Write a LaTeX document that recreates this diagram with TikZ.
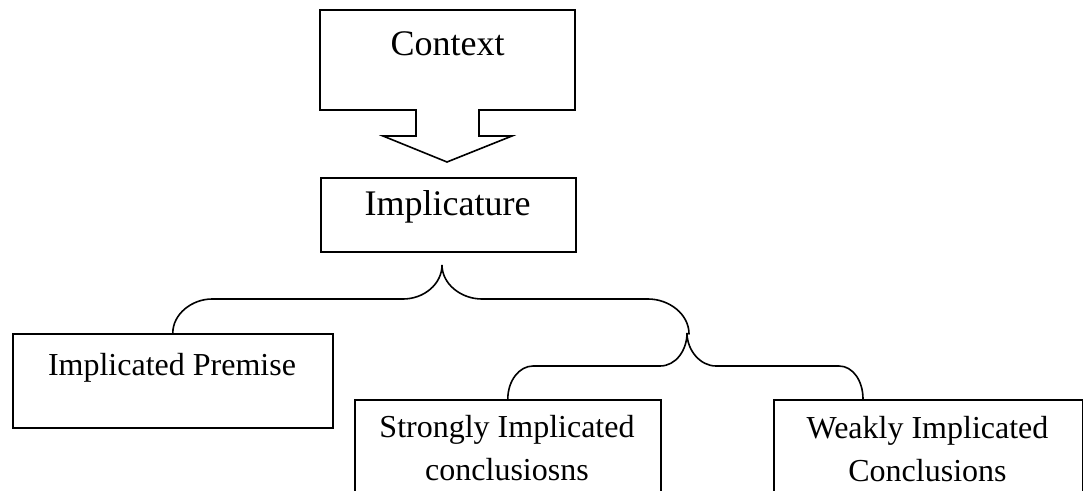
\documentclass[tikz,border=0pt]{standalone}
\usepackage{fontspec}
\setmainfont{Liberation Serif}
\usetikzlibrary{calc}
\begin{document}
\begin{tikzpicture}[x=1pt,y=-1pt,line width=1.6pt,
  box/.style={draw,line width=1.6pt,inner sep=0pt,anchor=north west},
  big/.style={font=\fontsize{36}{40}\selectfont,inner sep=0pt,anchor=base},
  small/.style={font=\fontsize{32}{43}\selectfont,inner sep=0pt,anchor=base,align=center},
  brace/.style={draw,line width=1.6pt,line cap=round}]
\useasboundingbox (0,0) rectangle (1083,490);
\clip (0,0) rectangle (1083,490);
% Context callout
\draw[line join=miter] (320,10) -- (575,10) -- (575,110) -- (479,110) -- (479,136) -- (512,136)
  -- (447,162) -- (383,136) -- (416,136) -- (416,110) -- (320,110) -- cycle;
\node[big] (ctx) at (447.5,55) {Context};
% Implicature
\node[box,minimum width=255pt,minimum height=74pt] (impl) at (320,177) {};
\node[big] (impltext) at (447.5,215) {Implicature};
% Implicated Premise
\node[box,minimum width=320pt,minimum height=94pt] (prem) at (12,333) {};
\node[small] (premtext) at (172,375) {Implicated Premise};
% Strongly
\node[box,minimum width=306pt,minimum height=120pt] (strong) at (354,399) {};
\node[small] (strongtext) at (507,480) {Strongly Implicated\\conclusiosns};
% Weakly
\node[box,minimum width=309pt,minimum height=120pt] (weak) at (773,399) {};
\node[small] (weaktext) at (927.5,481) {Weakly Implicated\\Conclusions};
% brace tips
\coordinate (t1) at (442,265);
\coordinate (t2) at (687,333);
\coordinate (wend) at ($(weak.north west)+(90,0)$);
% brace 1
\draw[brace] (prem.north) .. controls ($(prem.north)+(0,-19)$) and (192,299) .. (212,299)
  -- (403,299) .. controls (424,299) and ($(t1)+(0,19)$) .. (t1)
  .. controls ($(t1)+(0,19)$) and (461,299) .. (482,299)
  -- (648,299) .. controls (669,299) and (689,314) .. (689,334);
% brace 2
\draw[brace] (strong.north) .. controls ($(strong.north)+(0,-18)$) and (519,366) .. (533,366)
  -- (660,366) .. controls (676,366) and ($(t2)+(0,17)$) .. (t2)
  .. controls ($(t2)+(0,17)$) and (700,366) .. (716,366)
  -- (839,366) .. controls (853,366) and ($(wend)+(0,-18)$) .. (wend);
\end{tikzpicture}
\end{document}
